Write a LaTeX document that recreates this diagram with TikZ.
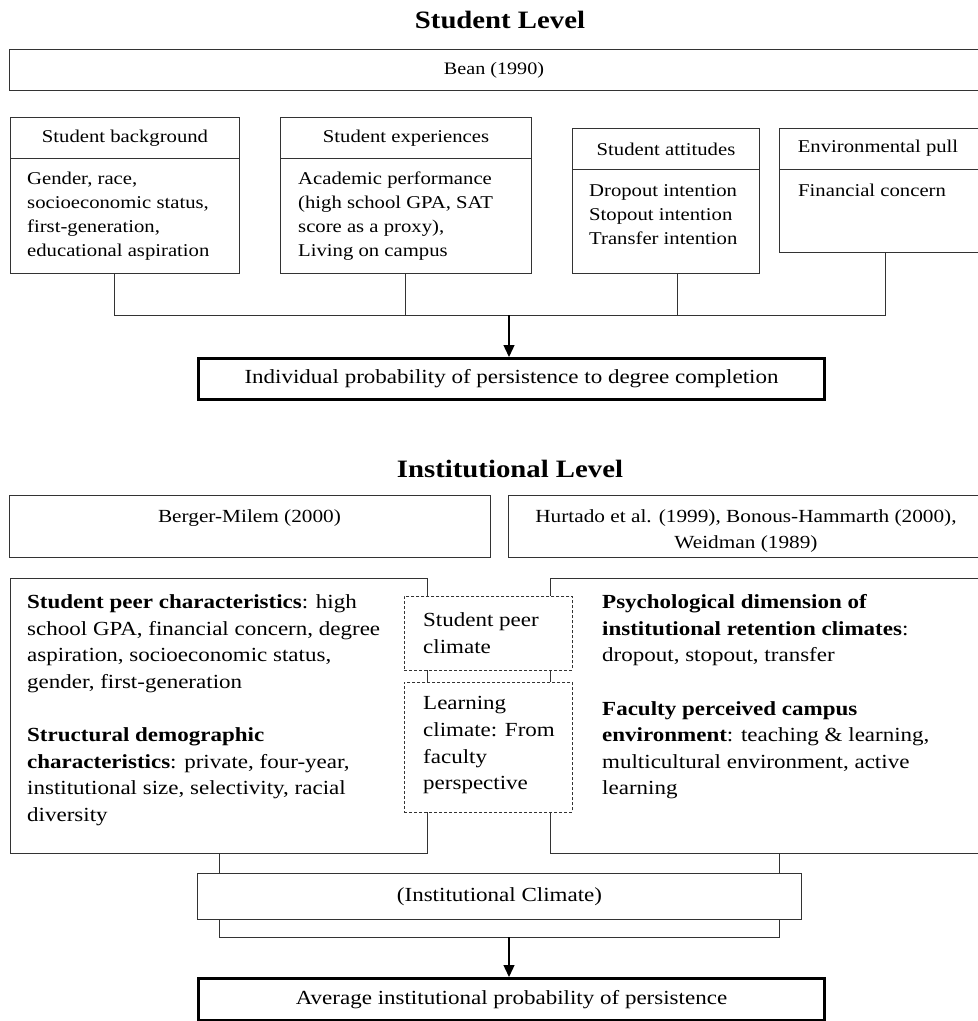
\documentclass[tikz,border=0pt]{standalone}
\usepackage{fontspec}
\setmainfont{Liberation Serif}[FakeStretch=1.15]
\usetikzlibrary{arrows.meta,calc}
\begin{document}
\begin{tikzpicture}[x=1pt,y=-1pt,
  bx/.style={draw=black!80, line width=1pt, fill=white, inner sep=0pt, anchor=north west},
  hd/.style={bx, font=\fontsize{18}{24}\selectfont, minimum height=41pt},
  thickbx/.style={draw=black, line width=3pt, fill=white, inner sep=0pt, anchor=north west, font=\fontsize{20}{24}\selectfont},
  dbx/.style={draw=black!80, line width=0.8pt, dash pattern=on 3pt off 2pt, fill=white, inner sep=0pt, anchor=north west},
  txt/.style={inner sep=0pt, anchor=north west, align=left, font=\fontsize{18}{24}\selectfont},
  ltxt/.style={inner sep=0pt, anchor=north west, align=left, font=\fontsize{20}{26.6}\selectfont},
  reftxt/.style={inner sep=0pt, anchor=north, align=center, font=\fontsize{18.5}{26}\selectfont},
  ttl/.style={inner sep=0pt, anchor=base, font=\fontsize{25}{30}\selectfont\bfseries},
  conn/.style={draw=black!80, line width=1pt},
  arr/.style={draw=black, line width=1.3pt, -{Triangle[length=12pt,width=11pt]}}
]
\useasboundingbox[fill=white] (0,0) rectangle (978,1021);

% ---------- Student level ----------
\node[ttl] (t1) at (500,28) {Student Level};
\node[bx, minimum width=971pt, minimum height=41pt] (bean) at (9,49) {};
\node[inner sep=0pt, font=\fontsize{17.5}{24}\selectfont] (beanT) at (494,70) {Bean (1990)};

\node[hd, minimum width=229pt] (bgH) at (10,117) {Student background};
\node[bx, minimum width=229pt, minimum height=115pt] (bgB) at (10,158) {};
\node[txt] (bgT) at (27,172) {Gender, race,\\socioeconomic status,\\first-generation,\\educational aspiration};

\node[hd, minimum width=251pt] (exH) at (280,117) {Student experiences};
\node[bx, minimum width=251pt, minimum height=115pt] (exB) at (280,158) {};
\node[txt] (exT) at (298,172) {Academic performance\\(high school GPA, SAT\\score as a proxy),\\Living on campus};

\node[hd, minimum width=187pt] (atH) at (572,128) {Student attitudes};
\node[bx, minimum width=187pt, minimum height=104pt] (atB) at (572,169) {};
\node[txt] (atT) at (589,184) {Dropout intention\\Stopout intention\\Transfer intention};

\node[bx, minimum width=254pt, minimum height=41pt] (enH) at (779,128) {};
\node[inner sep=0pt, font=\fontsize{18}{24}\selectfont] (enHT) at (878,148.5) {Environmental pull};
\node[bx, minimum width=254pt, minimum height=83pt] (enB) at (779,169) {};
\node[txt] (enT) at (798,184) {Financial concern};

\coordinate (j1) at (509,315);
\draw[conn] ([xshift=-10.5pt]bgB.south) |- (j1);
\draw[conn] ([xshift=-0.5pt]exB.south) |- (j1);
\draw[conn] ([xshift=11.5pt]atB.south) |- (j1);
\draw[conn] ([xshift=-21pt]enB.south) |- (j1);

\node[thickbx, minimum width=626pt, minimum height=41pt] (ind) at (197,357) {Individual probability of persistence to degree completion};
\draw[arr] (j1) -- (j1 |- ind.north);

% ---------- Institutional level ----------
\node[ttl] (t2) at (510,477) {Institutional Level};

\node[bx, minimum width=481pt, minimum height=62pt] (ber) at (9,495) {};
\node[reftxt] (berT) at (249.5,509) {Berger-Milem (2000)};
\node[bx, minimum width=480pt, minimum height=62pt] (hur) at (508,495) {};
\node[reftxt] (hurT) at (746,509) {Hurtado et al. (1999), Bonous-Hammarth (2000),\\Weidman (1989)};

\node[bx, minimum width=417pt, minimum height=275pt] (lb) at (10,578) {};
\node[bx, minimum width=458pt, minimum height=275pt] (rb) at (550,578) {};
\node[ltxt] (lbT) at (27,594.5) {\textbf{Student peer characteristics}: high\\school GPA, financial concern, degree\\aspiration, socioeconomic status,\\gender, first-generation\\[26.6pt]\textbf{Structural demographic}\\\textbf{characteristics}: private, four-year,\\institutional size, selectivity, racial\\diversity};
\node[ltxt] (rbT) at (602,594.5) {\textbf{Psychological dimension of}\\\textbf{institutional retention climates}:\\dropout, stopout, transfer\\[26.6pt]\textbf{Faculty perceived campus}\\\textbf{environment}: teaching \& learning,\\multicultural environment, active\\learning};

\node[dbx, minimum width=168pt, minimum height=74pt] (d1) at (404,596) {};
\node[ltxt, font=\fontsize{20}{27}\selectfont] (d1T) at (423,612.4) {Student peer\\climate};
\node[dbx, minimum width=168pt, minimum height=130pt] (d2) at (404,682) {};
\node[ltxt] (d2T) at (423,696.4) {Learning\\climate: From\\faculty\\perspective};

\node[bx, minimum width=604pt, minimum height=46pt, font=\fontsize{20}{24}\selectfont] (ic) at (197,873) {(Institutional Climate)};
\draw[conn] (lb.south) -- (lb.south |- ic.north);
\draw[conn] (rb.south) -- (rb.south |- ic.north);
\coordinate (j2) at (509,937);
\draw[conn] (ic.south -| lb.south) |- (j2) -| (ic.south -| rb.south);

\node[thickbx, minimum width=626pt, minimum height=42pt] (avg) at (197,977) {Average institutional probability of persistence};
\draw[arr] (j2) -- (j2 |- avg.north);
\end{tikzpicture}
\end{document}
